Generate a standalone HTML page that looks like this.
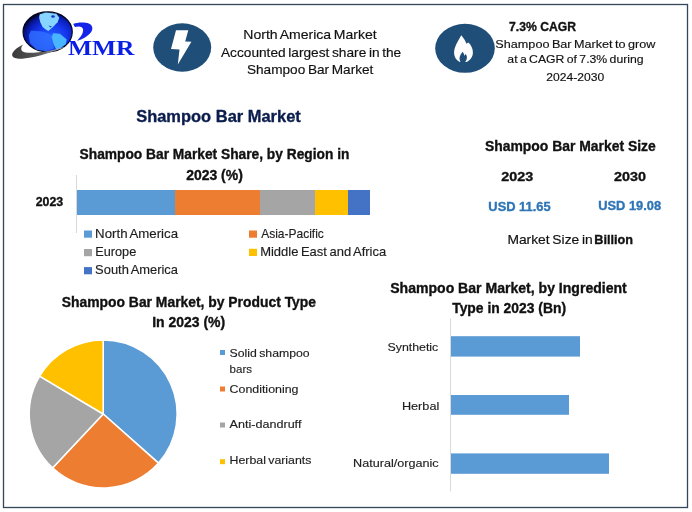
<!DOCTYPE html>
<html><head><meta charset="utf-8"><style>
html,body{margin:0;padding:0;background:#fff;}
svg{display:block;will-change:transform;}
text{font-family:"Liberation Sans",sans-serif;word-spacing:-1px;}
</style></head><body>
<svg width="692" height="512" viewBox="0 0 692 512">
<rect width="692" height="512" fill="#fff"/>
<rect x="3.5" y="4.5" width="684" height="503" fill="none" stroke="#34465a" stroke-width="1.3"/>
<defs>
<radialGradient id="gl" cx="0.58" cy="0.62" r="0.64">
<stop offset="0" stop-color="#2560ff"/><stop offset="0.45" stop-color="#1638f0"/><stop offset="0.7" stop-color="#0c22c4"/><stop offset="0.84" stop-color="#081590"/><stop offset="0.94" stop-color="#030a48"/><stop offset="1" stop-color="#000000"/>
</radialGradient>
<linearGradient id="sw" x1="0" y1="0" x2="1" y2="0"><stop offset="0" stop-color="#3a3a3a"/><stop offset="0.5" stop-color="#5a5a5a"/><stop offset="0.8" stop-color="#9aa2b0"/><stop offset="1" stop-color="#c0c8d8"/></linearGradient>
<filter id="bl" x="-10%" y="-10%" width="120%" height="120%"><feGaussianBlur stdDeviation="0.35"/></filter>
</defs>
<ellipse cx="47.65" cy="31.9" rx="24.6" ry="19.95" fill="url(#gl)" stroke="#02061e" stroke-width="1.2"/>
<g filter="url(#bl)">
<path d="M31.1,30.4 L42.6,31.5 L51.8,35 L54.1,48.8 L46.1,51.1 L36.8,50 L29.9,43.1 L28.8,35 Z" fill="#3070ff" opacity="0.8"/>
<path d="M39.7,14.2 L46.1,12.5 L56.4,13.7 L59.3,17.7 L57.6,22.3 L53,26.9 L48.4,31 L46.1,29.8 L42.6,26.9 L40.3,22.3 L39.1,17.7 Z" fill="#86d4ff"/>
<path d="M53,33.3 L59.9,33.8 L66.8,39.6 L65.7,44.2 L61,47.7 L56.4,50 L53.6,44.2 L51.8,37.3 Z" fill="#4ab4ff"/>
<ellipse cx="53" cy="16.5" rx="1.8" ry="1.3" fill="#1636c8"/>
<path d="M48.4,25.6 L52,26.4 L50.5,27.6 Z" fill="#1636c8"/>
</g>
<path d="M23.2,44.6 C17,47.5 11.5,52 12.2,55.5 C13,58.5 18,59.2 24,58.6 C38,57 56,51 69.5,45.2 C56,50 38,53.2 28,52.8 C21,52.5 19.5,49 23.2,44.6 Z" fill="url(#sw)"/>
<path d="M73.2,24.1 C77.5,22.2 84.5,22.1 88.8,23.5 C92.8,25 93.4,29.2 90.8,32.5 C88.2,35.9 82.4,39.7 77,40.8 C80.5,37.4 83.4,33.4 83.1,29.8 C82.9,27.6 81,26.6 78.5,26.6 C77.3,26.6 76,26.8 74.9,27.1 Z" fill="#1424e8"/>
<text x="68" y="54.9" style="font-family:'Liberation Serif',serif" font-weight="bold" font-size="20.3" fill="#0a1ee6" textLength="66.5" lengthAdjust="spacingAndGlyphs">MMR</text>
<ellipse cx="182.2" cy="47.5" rx="29" ry="24.2" fill="#1f4e79"/>
<polygon points="176,30.2 188.3,30.2 185.2,41.4 191.4,41.7 177.8,64.6 179.5,49.6 171,49" fill="#fff"/>
<ellipse cx="465" cy="48.3" rx="29.8" ry="24.5" fill="#1f4e79"/>
<path d="M461.2,35.3 C463.4,38 465.4,40.6 466.5,43.8 C467.1,43.1 467.8,42.7 468.5,42.4 C471,45 472.9,48.2 472.9,52.2 C472.9,56.6 470.6,60.2 466.6,61.9 L465.2,61.9 C466.4,60.6 467,58.8 466.9,57 C466.8,55.6 466.2,54.6 465.5,53.9 C465.3,54.8 464.9,55.4 464.4,55.7 C464.2,54.3 463.6,52.9 462.7,51.7 C461,53.6 459.5,56 459.5,58.6 C459.5,59.9 459.9,61 460.5,61.9 L459.9,61.9 C456.5,60.6 454.1,57.2 454.1,52.8 C454.1,47 457.6,42 461.2,35.3 Z" fill="#fff"/>
<line x1="76.5" y1="175" x2="76.5" y2="233" stroke="#d9d9d9" stroke-width="1"/>
<rect x="77" y="190" width="98" height="25" fill="#5b9bd5"/>
<rect x="175" y="190" width="85" height="25" fill="#ed7d31"/>
<rect x="260" y="190" width="55" height="25" fill="#a5a5a5"/>
<rect x="315" y="190" width="33" height="25" fill="#ffc000"/>
<rect x="348" y="190" width="22" height="25" fill="#4472c4"/>
<rect x="84" y="230.5" width="8" height="7.2" fill="#5b9bd5"/>
<rect x="84" y="249.0" width="8" height="7.2" fill="#a5a5a5"/>
<rect x="84" y="267.1" width="8" height="7.2" fill="#4472c4"/>
<rect x="249" y="230.5" width="8" height="7.2" fill="#ed7d31"/>
<rect x="249" y="248.8" width="8" height="7.2" fill="#ffc000"/>
<path d="M103.20,414.00 L103.20,340.00 A74.0,74.0 0 0 1 158.54,463.13 Z" fill="#5b9bd5" stroke="#fff" stroke-width="1.6" stroke-linejoin="round"/>
<path d="M103.20,414.00 L158.54,463.13 A74.0,74.0 0 0 1 52.54,467.94 Z" fill="#ed7d31" stroke="#fff" stroke-width="1.6" stroke-linejoin="round"/>
<path d="M103.20,414.00 L52.54,467.94 A74.0,74.0 0 0 1 39.64,376.11 Z" fill="#a5a5a5" stroke="#fff" stroke-width="1.6" stroke-linejoin="round"/>
<path d="M103.20,414.00 L39.64,376.11 A74.0,74.0 0 0 1 103.20,340.00 Z" fill="#ffc000" stroke="#fff" stroke-width="1.6" stroke-linejoin="round"/>
<rect x="220" y="350" width="5" height="5" fill="#5b9bd5"/>
<rect x="220" y="386.5" width="5" height="5" fill="#ed7d31"/>
<rect x="220" y="422.5" width="5" height="5" fill="#a5a5a5"/>
<rect x="220" y="459.2" width="5" height="5" fill="#ffc000"/>
<line x1="450.5" y1="318.5" x2="450.5" y2="491.5" stroke="#d9d9d9" stroke-width="1"/>
<rect x="451" y="336.2" width="129" height="20.400000000000034" fill="#5b9bd5"/>
<rect x="451" y="395" width="118" height="19.80000000000001" fill="#5b9bd5"/>
<rect x="451" y="453.4" width="158" height="20.400000000000034" fill="#5b9bd5"/>
<text x="243.35" y="39.00" font-size="12.06" font-weight="normal" fill="#111111" stroke="#111111" stroke-width="0.15" textLength="133.44" lengthAdjust="spacingAndGlyphs">North America Market</text>
<text x="221.00" y="56.70" font-size="12.06" font-weight="normal" fill="#111111" stroke="#111111" stroke-width="0.15" textLength="180.23" lengthAdjust="spacingAndGlyphs">Accounted largest share in the</text>
<text x="246.94" y="74.30" font-size="12.06" font-weight="normal" fill="#111111" stroke="#111111" stroke-width="0.15" textLength="126.45" lengthAdjust="spacingAndGlyphs">Shampoo Bar Market</text>
<text x="509.00" y="30.90" style="word-spacing:0px" font-size="13.23" font-weight="bold" fill="#111111" stroke="#111111" stroke-width="0.35" textLength="67.00" lengthAdjust="spacingAndGlyphs">7.3% CAGR</text>
<text x="495.37" y="47.90" font-size="11.63" font-weight="normal" fill="#111111" stroke="#111111" stroke-width="0.15" textLength="160.03" lengthAdjust="spacingAndGlyphs">Shampoo Bar Market to grow</text>
<text x="507.39" y="63.40" font-size="11.63" font-weight="normal" fill="#111111" stroke="#111111" stroke-width="0.15" textLength="136.26" lengthAdjust="spacingAndGlyphs">at a CAGR of 7.3% during</text>
<text x="546.33" y="80.50" font-size="11.63" font-weight="normal" fill="#111111" stroke="#111111" stroke-width="0.15" textLength="57.90" lengthAdjust="spacingAndGlyphs">2024-2030</text>
<text x="136.19" y="121.90" style="word-spacing:0px" font-size="17.15" font-weight="bold" fill="#0b1d4d" stroke="#0b1d4d" stroke-width="0.35" textLength="164.63" lengthAdjust="spacingAndGlyphs">Shampoo Bar Market</text>
<text x="79.60" y="158.70" style="word-spacing:0px" font-size="14.24" font-weight="bold" fill="#111111" stroke="#111111" stroke-width="0.35" textLength="269.81" lengthAdjust="spacingAndGlyphs">Shampoo Bar Market Share, by Region in</text>
<text x="186.13" y="179.50" style="word-spacing:0px" font-size="14.24" font-weight="bold" fill="#111111" stroke="#111111" stroke-width="0.35" textLength="56.71" lengthAdjust="spacingAndGlyphs">2023 (%)</text>
<text x="35.72" y="205.80" style="word-spacing:0px" font-size="12.79" font-weight="bold" fill="#111111" stroke="#111111" stroke-width="0.35" textLength="27.53" lengthAdjust="spacingAndGlyphs">2023</text>
<text x="95.13" y="237.70" font-size="12.06" font-weight="normal" fill="#1e1e1e" stroke="#1e1e1e" stroke-width="0.15" textLength="82.90" lengthAdjust="spacingAndGlyphs">North America</text>
<text x="95.24" y="255.60" font-size="12.06" font-weight="normal" fill="#1e1e1e" stroke="#1e1e1e" stroke-width="0.15" textLength="41.03" lengthAdjust="spacingAndGlyphs">Europe</text>
<text x="95.13" y="274.00" font-size="12.06" font-weight="normal" fill="#1e1e1e" stroke="#1e1e1e" stroke-width="0.15" textLength="82.88" lengthAdjust="spacingAndGlyphs">South America</text>
<text x="261.16" y="237.70" font-size="12.06" font-weight="normal" fill="#1e1e1e" stroke="#1e1e1e" stroke-width="0.15" textLength="62.66" lengthAdjust="spacingAndGlyphs">Asia-Pacific</text>
<text x="260.17" y="255.50" font-size="12.06" font-weight="normal" fill="#1e1e1e" stroke="#1e1e1e" stroke-width="0.15" textLength="126.04" lengthAdjust="spacingAndGlyphs">Middle East and Africa</text>
<text x="484.99" y="151.40" style="word-spacing:0px" font-size="15.41" font-weight="bold" fill="#111111" stroke="#111111" stroke-width="0.35" textLength="170.84" lengthAdjust="spacingAndGlyphs">Shampoo Bar Market Size</text>
<text x="501.38" y="180.80" style="word-spacing:0px" font-size="13.52" font-weight="bold" fill="#111111" stroke="#111111" stroke-width="0.35" textLength="31.88" lengthAdjust="spacingAndGlyphs">2023</text>
<text x="614.00" y="180.90" style="word-spacing:0px" font-size="13.52" font-weight="bold" fill="#111111" stroke="#111111" stroke-width="0.35" textLength="31.91" lengthAdjust="spacingAndGlyphs">2030</text>
<text x="488.33" y="210.60" style="word-spacing:0px" font-size="12.35" font-weight="bold" fill="#2e75b6" stroke="#2e75b6" stroke-width="0.35" textLength="62.32" lengthAdjust="spacingAndGlyphs">USD 11.65</text>
<text x="598.19" y="209.60" style="word-spacing:0px" font-size="12.35" font-weight="bold" fill="#2e75b6" stroke="#2e75b6" stroke-width="0.35" textLength="62.87" lengthAdjust="spacingAndGlyphs">USD 19.08</text>
<text x="507.41" y="243.60" font-size="12.06" font-weight="normal" fill="#111111" stroke="#111111" stroke-width="0.15" textLength="85.29" lengthAdjust="spacingAndGlyphs">Market Size in</text>
<text x="594.34" y="243.80" style="word-spacing:0px" font-size="13.37" font-weight="bold" fill="#111111" stroke="#111111" stroke-width="0.35" textLength="38.75" lengthAdjust="spacingAndGlyphs">Billion</text>
<text x="61.79" y="306.90" style="word-spacing:0px" font-size="14.24" font-weight="bold" fill="#111111" stroke="#111111" stroke-width="0.35" textLength="254.22" lengthAdjust="spacingAndGlyphs">Shampoo Bar Market, by Product Type</text>
<text x="152.13" y="326.90" style="word-spacing:0px" font-size="14.24" font-weight="bold" fill="#111111" stroke="#111111" stroke-width="0.35" textLength="73.07" lengthAdjust="spacingAndGlyphs">In 2023 (%)</text>
<text x="229.58" y="357.00" font-size="11.48" font-weight="normal" fill="#1e1e1e" stroke="#1e1e1e" stroke-width="0.15" textLength="80.08" lengthAdjust="spacingAndGlyphs">Solid shampoo</text>
<text x="229.62" y="372.80" font-size="11.48" font-weight="normal" fill="#1e1e1e" stroke="#1e1e1e" stroke-width="0.15" textLength="22.38" lengthAdjust="spacingAndGlyphs">bars</text>
<text x="229.57" y="392.90" font-size="11.48" font-weight="normal" fill="#1e1e1e" stroke="#1e1e1e" stroke-width="0.15" textLength="68.88" lengthAdjust="spacingAndGlyphs">Conditioning</text>
<text x="229.58" y="428.20" font-size="11.48" font-weight="normal" fill="#1e1e1e" stroke="#1e1e1e" stroke-width="0.15" textLength="71.82" lengthAdjust="spacingAndGlyphs">Anti-dandruff</text>
<text x="229.58" y="464.20" font-size="11.48" font-weight="normal" fill="#1e1e1e" stroke="#1e1e1e" stroke-width="0.15" textLength="81.83" lengthAdjust="spacingAndGlyphs">Herbal variants</text>
<text x="390.20" y="292.90" style="word-spacing:0px" font-size="14.24" font-weight="bold" fill="#111111" stroke="#111111" stroke-width="0.35" textLength="236.61" lengthAdjust="spacingAndGlyphs">Shampoo Bar Market, by Ingredient</text>
<text x="452.20" y="312.60" style="word-spacing:0px" font-size="14.24" font-weight="bold" fill="#111111" stroke="#111111" stroke-width="0.35" textLength="113.82" lengthAdjust="spacingAndGlyphs">Type in 2023 (Bn)</text>
<text x="387.54" y="351.40" font-size="11.48" font-weight="normal" fill="#1e1e1e" stroke="#1e1e1e" stroke-width="0.15" textLength="50.74" lengthAdjust="spacingAndGlyphs">Synthetic</text>
<text x="401.92" y="409.80" font-size="11.48" font-weight="normal" fill="#1e1e1e" stroke="#1e1e1e" stroke-width="0.15" textLength="37.35" lengthAdjust="spacingAndGlyphs">Herbal</text>
<text x="353.14" y="467.20" font-size="11.48" font-weight="normal" fill="#1e1e1e" stroke="#1e1e1e" stroke-width="0.15" textLength="85.50" lengthAdjust="spacingAndGlyphs">Natural/organic</text>
</svg>
</body></html>
